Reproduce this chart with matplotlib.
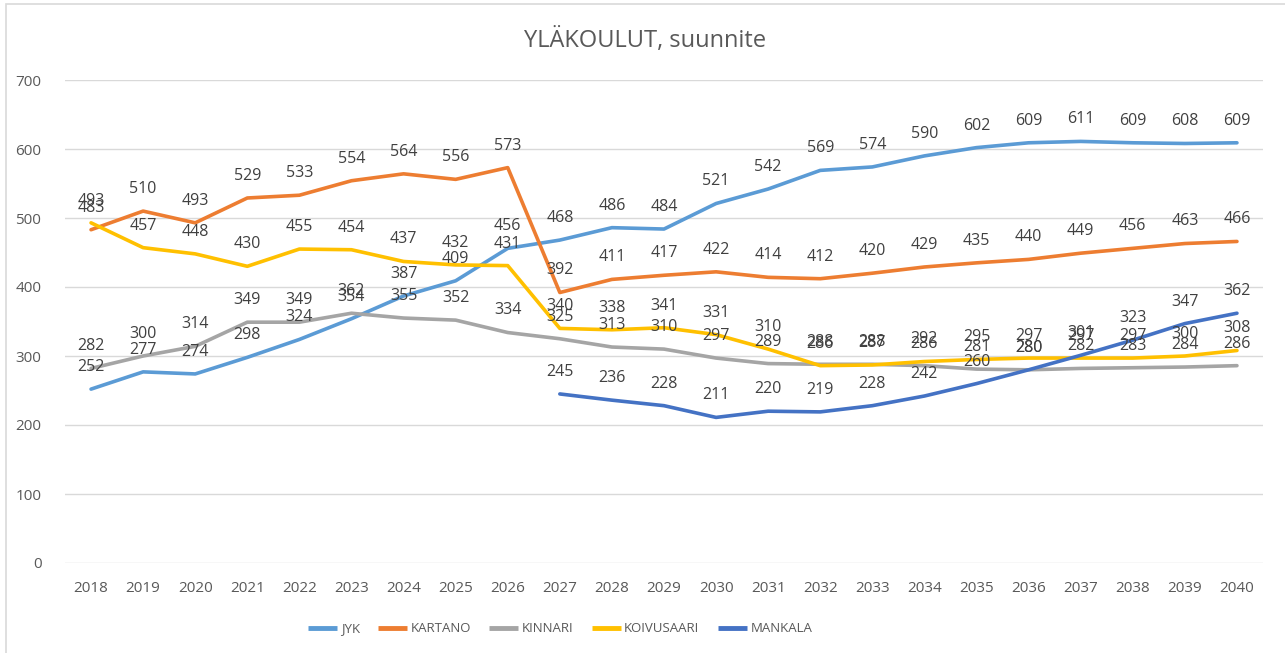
import matplotlib
matplotlib.use("Agg")
import matplotlib.pyplot as plt
from matplotlib.patches import Rectangle

vuodet = [str(v) for v in range(2018, 2041)]

jyk = [252, 277, 274, 298, 324, 354, 387, 409, 456, 468, 486, 484, 521, 542,
       569, 574, 590, 602, 609, 611, 609, 608, 609]
kartano = [483, 510, 493, 529, 533, 554, 564, 556, 573, 392, 411, 417, 422, 414,
           412, 420, 429, 435, 440, 449, 456, 463, 466]
kinnari = [282, 300, 314, 349, 349, 362, 355, 352, 334, 325, 313, 310, 297, 289,
           288, 288, 286, 281, 280, 282, 283, 284, 286]
koivusaari = [493, 457, 448, 430, 455, 454, 437, 432, 431, 340, 338, 341, 331, 310,
              286, 287, 292, 295, 297, 297, 297, 300, 308]
# MANKALA alkaa vasta 2027
mankala = [None] * 9 + [245, 236, 228, 211, 220, 219, 228, 242, 260, 280, 301,
                        323, 347, 362]

sarjat = [
    ("JYK", jyk, "#5B9BD5"),
    ("KARTANO", kartano, "#ED7D31"),
    ("KINNARI", kinnari, "#A5A5A5"),
    ("KOIVUSAARI", koivusaari, "#FFC000"),
    ("MANKALA", mankala, "#4472C4"),
]

plt.rcParams["font.family"] = ["Open Sans", "DejaVu Sans"]

fig = plt.figure(figsize=(12.85, 6.53), dpi=100)
ax = fig.add_axes([65 / 1285, 1 - 563 / 653, 1198 / 1285, 483 / 653])

x = list(range(len(vuodet)))
for nimi, arvot, vari in sarjat:
    xs = [i for i, a in zip(x, arvot) if a is not None]
    ys = [a for a in arvot if a is not None]
    ax.plot(xs, ys, color=vari, lw=2.6, label=nimi, solid_capstyle="round")
    for xi, yi in zip(xs, ys):
        ax.annotate(str(yi), (xi, yi), xytext=(0, 13), textcoords="offset points",
                    ha="center", va="baseline", fontsize=11.5, color="#404040")

ax.set_xlim(-0.5, len(vuodet) - 0.5)
ax.set_ylim(0, 700)
ax.set_yticks(range(0, 701, 100))
ax.set_xticks(x)
ax.set_xticklabels(vuodet)
ax.grid(axis="y", color="#D9D9D9", lw=1)
ax.set_axisbelow(True)
for s in ax.spines.values():
    s.set_visible(False)
ax.tick_params(length=0, labelsize=11, labelcolor="#595959")
ax.tick_params(axis="x", pad=13)
ax.tick_params(axis="y", pad=17)

fig.text(0.502, 1 - 40 / 653, "YLÄKOULUT, suunnite", ha="center", va="center",
         fontsize=17, color="#595959")

leg = fig.legend(loc="center", bbox_to_anchor=(0.436, 1 - 629 / 653), ncol=5,
                 frameon=False, fontsize=9.5, handlelength=2.2, columnspacing=1.4,
                 handletextpad=0.25, labelcolor="#595959")
for h in leg.get_lines():
    h.set_linewidth(3.5)
    h.set_solid_capstyle("butt")

fig.patches.append(Rectangle((6 / 1285, -0.1), 1.2, 1 - 4 / 653 + 0.1,
                             transform=fig.transFigure, fill=False,
                             edgecolor="#D9D9D9", lw=1.2))

fig.savefig("out.png", dpi=100)
